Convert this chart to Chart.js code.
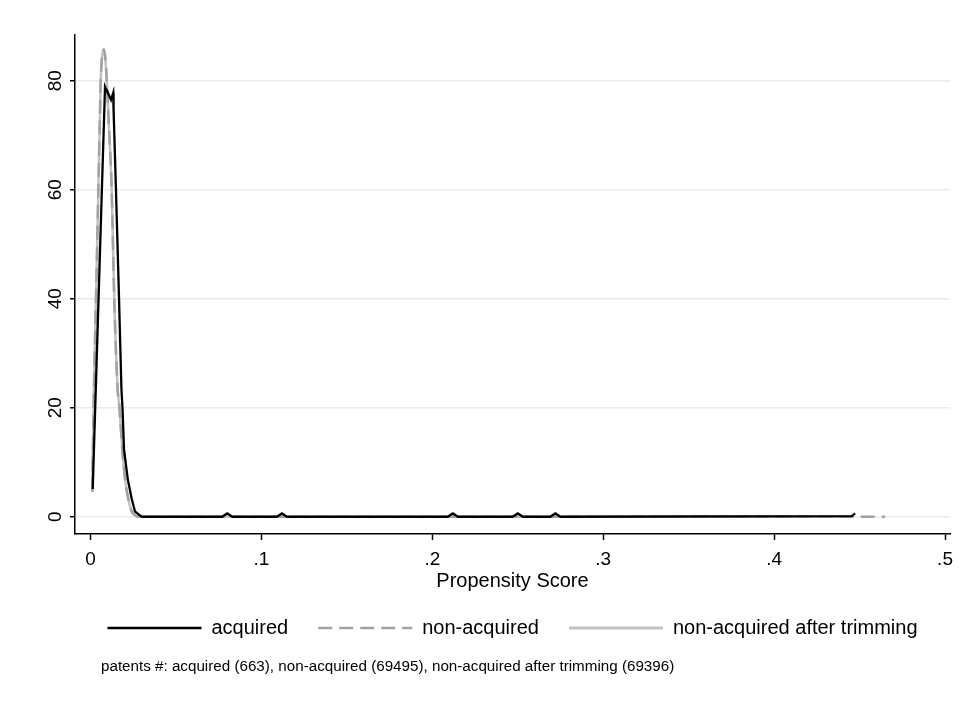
<!DOCTYPE html>
<html>
<head>
<meta charset="utf-8">
<script src="https://cdn.jsdelivr.net/npm/chart.js@4.4.1/dist/chart.umd.min.js"></script>
<style>
  html, body { margin: 0; padding: 0; background: #fff; }
  #wrap { width: 980px; height: 714px; }
</style>
</head>
<body>
<div id="wrap"><canvas id="kdens"></canvas></div>
<script>
// kernel densities of the propensity score
var acquiredX = [0.0013, 0.0085, 0.0120, 0.0133, 0.0135, 0.0149, 0.0167, 0.0181, 0.0187, 0.0196, 0.0218, 0.0241, 0.0260, 0.0286, 0.0301,
  0.0770, 0.0800, 0.0830, 0.1090, 0.1120, 0.1150, 0.2090, 0.2120, 0.2150,
  0.2470, 0.2500, 0.2530, 0.2690, 0.2720, 0.2750, 0.4454, 0.4474];
var acquiredY = [5.1, 78.9, 76.5, 77.8, 74.7, 60.0, 39.9, 23.4, 20.1, 12.4, 6.9, 3.3, 1.0, 0.3, 0,
  0, 0.6, 0, 0, 0.6, 0, 0, 0.6, 0,
  0, 0.6, 0, 0, 0.6, 0, 0.1, 0.6];

var nonAcqX = [0.0010, 0.0020, 0.0032, 0.0046, 0.0056, 0.0060, 0.0079, 0.0095, 0.0106, 0.0124, 0.0139, 0.0159, 0.0169,
  0.0186, 0.0202, 0.0221, 0.0241, 0.0260, 0.0278, 0.4649];
var nonAcqY = [4.6, 23.4, 39.9, 60.0, 74.7, 80.2, 85.8, 80.2, 72.8, 60.0, 39.9, 23.4, 20.1,
  12.4, 6.9, 3.3, 1.0, 0.3, 0, 0];

var trimmedX = [0.0010, 0.0020, 0.0032, 0.0046, 0.0056, 0.0060, 0.0079, 0.0095, 0.0106, 0.0124, 0.0139, 0.0159, 0.0169,
  0.0186, 0.0202, 0.0221, 0.0241, 0.0260, 0.0278, 0.4460];
var trimmedY = [4.6, 23.4, 39.9, 60.0, 74.6, 80.1, 85.7, 80.1, 72.8, 60.0, 39.9, 23.4, 20.1,
  12.4, 6.9, 3.3, 1.0, 0.3, 0, 0];

var xTicks = [0, 0.1, 0.2, 0.3, 0.4, 0.5];
var xTickLabels = ["0", ".1", ".2", ".3", ".4", ".5"];
var yTicks = [0, 20, 40, 60, 80];
var yTickLabels = ["0", "20", "40", "60", "80"];

var seriesNames = ["acquired", "non-acquired", "non-acquired after trimming"];
var note = "patents #: acquired (663), non-acquired (69495), non-acquired after trimming (69396)";

function points(xs, ys) {
  var out = [];
  for (var i = 0; i < xs.length; i++) {
    out.push({ x: xs[i], y: ys[i] });
  }
  return out;
}

// footnote under the legend
var notePlugin = {
  id: "note",
  afterDraw: function (chart) {
    var ctx = chart.ctx;
    ctx.save();
    ctx.font = '15.2px "Liberation Sans", Arial, sans-serif';
    ctx.fillStyle = "#000";
    ctx.textBaseline = "middle";
    ctx.textAlign = "left";
    ctx.fillText(note, 101, 667);
    ctx.restore();
  }
};

Chart.defaults.font.family = '"Liberation Sans", Arial, sans-serif';
Chart.defaults.color = "#000";

var ctx = document.getElementById("kdens");

var kdChart = new Chart(ctx, {
  type: "line",
  data: {
    datasets: [
      {
        label: seriesNames[0],
        data: points(acquiredX, acquiredY),
        borderColor: "#000",
        borderWidth: 2.3,
        tension: 0,
        pointRadius: 0,
        fill: false,
      },
      {
        label: seriesNames[1],
        data: points(nonAcqX, nonAcqY),
        borderColor: "#a2a2a2",
        borderWidth: 2.5,
        borderDash: [14, 7],
        cubicInterpolationMode: "monotone",
        pointRadius: 0,
        fill: false,
      },
      {
        label: seriesNames[2],
        data: points(trimmedX, trimmedY),
        borderColor: "#c2c2c2",
        borderWidth: 2.5,
        cubicInterpolationMode: "monotone",
        pointRadius: 0,
        fill: false,
      },
    ],
  },
  options: {
    responsive: true,
    maintainAspectRatio: false,
    animation: false,
    devicePixelRatio: 1,
    layout: { padding: { top: 35, right: 30, bottom: 66, left: 0 } },
    plugins: {
      legend: {
        display: true,
        position: "bottom",
        fullSize: false,
        labels: {
          usePointStyle: true,
          pointStyle: "line",
          pointStyleWidth: 94,
          padding: 30,
          color: "#000",
          font: { size: 20 },
          // point-style items drop the dash, so take it from the dataset
          generateLabels: function (chart) {
            var items = Chart.defaults.plugins.legend.labels.generateLabels(chart);
            items.forEach(function (item) {
              var ds = chart.data.datasets[item.datasetIndex];
              item.lineDash = ds.borderDash || [];
              item.strokeStyle = ds.borderColor;
              item.lineWidth = ds.borderDash ? 2.6 : (item.datasetIndex === 0 ? 2.6 : 2.8);
            });
            return items;
          },
        },
      },
      tooltip: { enabled: false },
    },
    scales: {
      x: {
        type: "linear",
        min: -0.00907,
        max: 0.5029,
        afterBuildTicks: function (scale) {
          scale.ticks = xTicks.map(function (v) { return { value: v }; });
        },
        afterFit: function (scale) { scale.height = 54; },
        grid: { drawOnChartArea: false, drawTicks: true, tickLength: 6, tickColor: "#000", tickWidth: 1.5 },
        border: { display: true, color: "#000", width: 1.5 },
        ticks: {
          padding: 8,
          maxRotation: 0,
          autoSkip: false,
          font: { size: 19 },
          callback: function (v, i) { return xTickLabels[i]; },
        },
        title: {
          display: true,
          text: "Propensity Score",
          font: { size: 20 },
          padding: { top: 0, bottom: -5 },
        },
      },
      y: {
        type: "linear",
        min: -3.17,
        max: 88.4,
        afterBuildTicks: function (scale) {
          scale.ticks = yTicks.map(function (v) { return { value: v }; });
        },
        afterFit: function (scale) { scale.width = 75; },
        grid: { color: "#e3edef", lineWidth: 1.5, drawTicks: true, tickLength: 5, tickColor: "#000", tickWidth: 1.5 },
        border: { display: true, color: "#000", width: 1.5 },
        ticks: {
          padding: 4,
          minRotation: 90,
          maxRotation: 90,
          crossAlign: "center",
          autoSkip: false,
          font: { size: 19 },
          callback: function (v, i) { return yTickLabels[i]; },
        },
      },
    },
  },
  plugins: [notePlugin],
});
</script>
</body>
</html>
